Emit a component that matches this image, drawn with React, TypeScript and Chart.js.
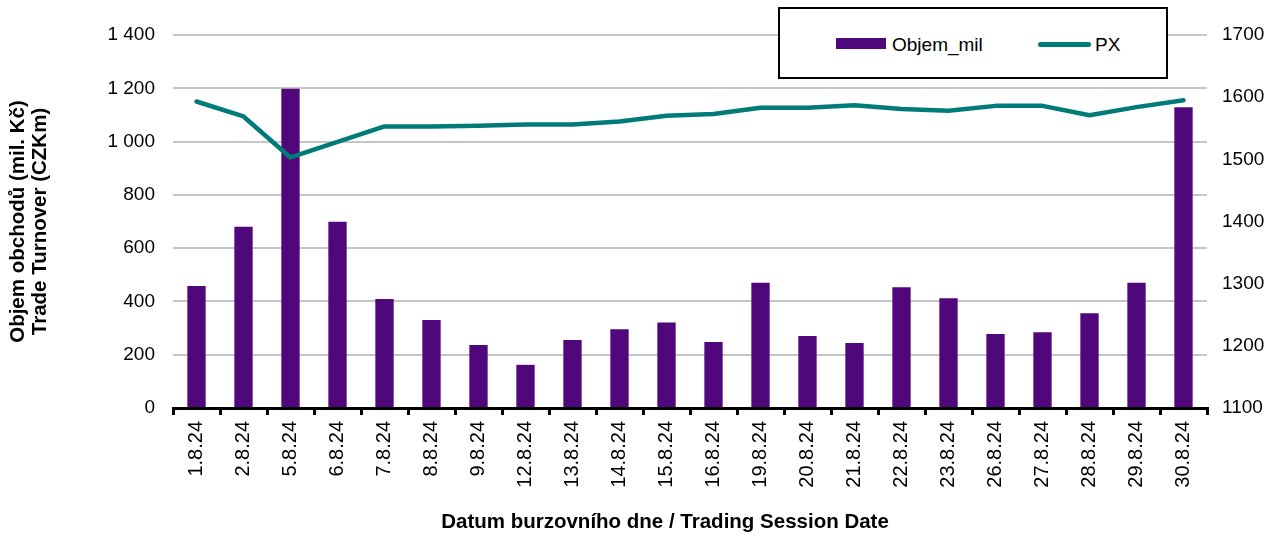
import React, { useEffect, useRef } from "react";
import { Chart, registerables } from "chart.js";

Chart.register(...registerables);

const categories = [
  "1.8.24", "2.8.24", "5.8.24", "6.8.24", "7.8.24", "8.8.24", "9.8.24", "12.8.24",
  "13.8.24", "14.8.24", "15.8.24", "16.8.24", "19.8.24", "20.8.24", "21.8.24",
  "22.8.24", "23.8.24", "26.8.24", "27.8.24", "28.8.24", "29.8.24", "30.8.24",
];
const objemMil = [458, 680, 1198, 699, 409, 330, 236, 162, 255, 296, 321, 248, 470, 270, 244, 453, 412, 278, 284, 356, 470, 1129];
const pxIndex = [1593, 1569, 1503, 1528, 1553, 1553, 1554, 1556, 1556, 1561, 1570, 1573, 1583, 1583, 1587, 1581, 1578, 1586, 1586, 1571, 1584, 1595];
const leftTicks = [0, 1400, 200];
const rightTicks = [1100, 1700, 100];

const PURPLE = "#50077B";
const TEAL = "#007B77";
const FONT = "'Liberation Sans', Arial, sans-serif";

const fmtThousands = (v: number) => {
  const s = String(Math.round(v));
  return s.replace(/\B(?=(\d{3})+(?!\d))/g, " ");
};

const xTitlePlugin = {
  id: "xTitle",
  afterDraw(chart: any) {
    const ctx = chart.ctx;
    ctx.save();
    ctx.font = `bold 20.5px ${FONT}`;
    ctx.fillStyle = "#000";
    ctx.textAlign = "center";
    ctx.textBaseline = "middle";
    ctx.fillText("Datum burzovního dne / Trading Session Date", 665, 522);
    ctx.restore();
  },
};

export default function App() {
  const ref = useRef<HTMLCanvasElement>(null);
  useEffect(() => {
    if (!ref.current) return;
    const chart = new Chart(ref.current, {
      type: "bar",
      data: {
        labels: categories,
        datasets: [
          {
            type: "bar",
            label: "Objem_mil",
            data: objemMil,
            backgroundColor: PURPLE,
            barPercentage: 0.39,
            categoryPercentage: 1,
            yAxisID: "y",
            order: 2,
          },
          {
            type: "line",
            label: "PX",
            data: pxIndex,
            borderColor: TEAL,
            borderWidth: 4.5,
            pointRadius: 0,
            tension: 0,
            borderCapStyle: "round",
            borderJoinStyle: "round",
            yAxisID: "y1",
            order: 1,
          },
        ],
      },
      options: {
        responsive: false,
        animation: false,
        layout: { padding: { top: 35, left: 8, right: 0, bottom: 0 } },
        plugins: { legend: { display: false }, tooltip: { enabled: false } },
        scales: {
          x: {
            offset: true,
            grid: {
              offset: true,
              drawOnChartArea: false,
              drawTicks: true,
              tickLength: 7,
              color: "#000",
              lineWidth: 3,
            },
            border: { display: true, color: "#000", width: 3 },
            ticks: {
              autoSkip: false,
              minRotation: 90,
              maxRotation: 90,
              padding: 6,
              color: "#000",
              font: { family: FONT, size: 20 },
            },
            afterFit: (s: any) => {
              s.height = 127;
            },
          },
          y: {
            position: "left",
            min: leftTicks[0],
            max: leftTicks[1],
            ticks: {
              stepSize: leftTicks[2],
              padding: 18,
              color: "#000",
              font: { family: FONT, size: 19 },
              callback: (v: any) => fmtThousands(Number(v)),
            },
            grid: { color: "#C6C6C6", lineWidth: 2, drawTicks: false },
            border: { display: false },
            title: {
              display: true,
              text: ["Objem obchodů (mil. Kč)", "Trade Turnover (CZKm)"],
              color: "#000",
              font: { family: FONT, size: 20.5, weight: "bold", lineHeight: 1.05 },
              padding: 0,
            },
            afterFit: (s: any) => {
              s.width = 173 - 8;
            },
          },
          y1: {
            position: "right",
            min: rightTicks[0],
            max: rightTicks[1],
            ticks: {
              stepSize: rightTicks[2],
              padding: 15,
              color: "#000",
              font: { family: FONT, size: 19 },
              callback: (v: any) => String(v),
            },
            grid: { drawOnChartArea: false, drawTicks: false },
            border: { display: false },
            afterFit: (s: any) => {
              s.width = 1276 - 1207;
            },
          },
        },
      },
      plugins: [xTitlePlugin],
    } as any);
    return () => chart.destroy();
  }, []);

  const legendText: React.CSSProperties = {
    position: "absolute",
    top: 44,
    transform: "translateY(-50%)",
    fontFamily: FONT,
    fontSize: 19,
    color: "#000",
    lineHeight: 1,
    whiteSpace: "nowrap",
  };

  return (
    <div style={{ position: "absolute", left: 0, top: 0, width: 1276, height: 535, background: "#fff" }}>
      <canvas ref={ref} width={1276} height={535} style={{ display: "block" }} />
      <div
        style={{
          position: "absolute",
          left: 778,
          top: 7,
          width: 390,
          height: 72,
          border: "2px solid #000",
          boxSizing: "border-box",
          background: "#fff",
        }}
      />
      <div style={{ position: "absolute", left: 836, top: 38, width: 50, height: 11, background: PURPLE }} />
      <div style={{ ...legendText, left: 892 }}>Objem_mil</div>
      <div style={{ position: "absolute", left: 1038, top: 42, width: 53, height: 5, borderRadius: 3, background: TEAL }} />
      <div style={{ ...legendText, left: 1095 }}>PX</div>
    </div>
  );
}
